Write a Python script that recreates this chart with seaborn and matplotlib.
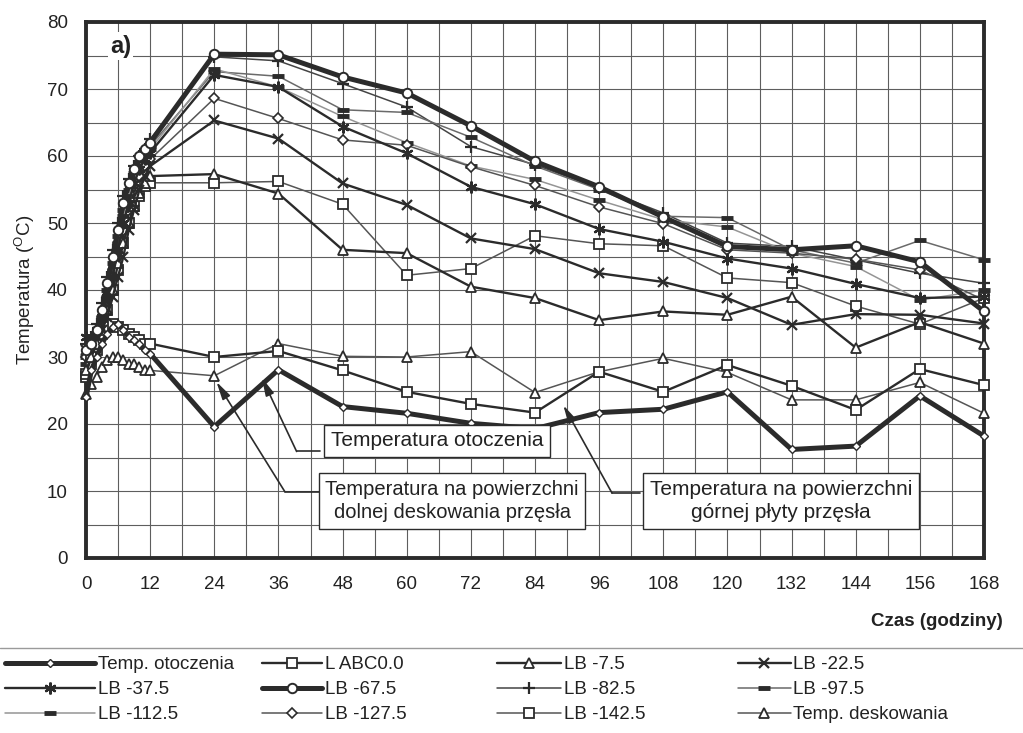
import numpy as np
import pandas as pd
import matplotlib
matplotlib.use("Agg")
import matplotlib.pyplot as plt
import seaborn as sns
from matplotlib.lines import Line2D

# ---------------- data ----------------
hours = [0, 1, 2, 3, 4, 5, 6, 7, 8, 9, 10, 11, 12,
         24, 36, 48, 60, 72, 84, 96, 108, 120, 132, 144, 156, 168]

temp_otoczenia = [24, 28, 30, 32, 33.5, 34.5, 35, 34, 33, 32.5, 32, 31, 30.5,
                  19.6, 28.1, 22.6, 21.6, 20.1, 19.3, 21.7, 22.2, 24.8, 16.2, 16.7, 24.2, 18.2]
l_abc00 = [27.5, 30, 32, 33.5, 34.5, 35, 34.5, 34, 33.5, 33, 32.5, 32, 32,
           30.0, 30.9, 28.0, 24.8, 23.0, 21.7, 27.8, 24.8, 28.8, 25.7, 22.1, 28.2, 25.8]
lb_7_5 = [28, 30, 32, 34, 37, 40, 44, 47, 50, 52.5, 54.5, 56, 57,
          57.3, 54.4, 46.0, 45.5, 40.5, 38.8, 35.5, 36.8, 36.3, 39.0, 31.4, 35.2, 32.0]
lb_22_5 = [31, 32, 33, 34, 36, 39, 42, 45, 49, 52, 55, 57, 58.5,
           65.3, 62.6, 55.9, 52.7, 47.7, 46.1, 42.5, 41.2, 38.8, 34.8, 36.4, 36.3, 35.0]
lb_37_5 = [33, 33, 34, 36, 39, 42, 46, 50, 53, 56, 58, 59.5, 60.5,
           72.1, 70.3, 64.4, 60.4, 55.4, 52.8, 49.1, 47.2, 44.7, 43.2, 40.9, 38.8, 39.0]
lb_67_5 = [31, 32, 34, 37, 41, 45, 49, 53, 56, 58, 60, 61, 62,
           75.2, 75.1, 71.8, 69.4, 64.5, 59.2, 55.4, 50.9, 46.5, 46.0, 46.6, 44.2, 36.8]
lb_82_5 = [32, 33, 35, 38, 42, 46, 50, 54, 56.5, 58.5, 60, 61, 62.5,
           74.8, 74.2, 70.8, 67.3, 61.4, 58.7, 55.2, 51.5, 47.0, 46.5, 44.5, 42.5, 41.0]
lb_97_5 = [30, 31, 33, 36, 40, 44, 48, 52, 55, 57.5, 59, 60.5, 61.5,
           72.6, 71.9, 66.9, 66.5, 62.8, 58.5, 55.0, 51.0, 50.8, 46.0, 44.0, 47.4, 44.5]
lb_112_5 = [29, 30, 32, 35, 39, 43, 47, 51, 54, 56.5, 58.5, 60, 61,
            73.0, 70.3, 65.9, 62.0, 58.5, 56.5, 53.4, 50.5, 49.4, 45.5, 43.5, 38.5, 40.0]
lb_127_5 = [30, 31, 33, 36, 39, 43, 47, 50, 53, 55.5, 57, 58.5, 59.5,
            68.6, 65.6, 62.4, 61.6, 58.4, 55.6, 52.4, 49.9, 46.0, 45.5, 44.6, 43.0, 38.5]
lb_142_5 = [27, 29, 31, 34, 37, 40, 43, 47, 50, 52.5, 54, 55.5, 56,
            56.0, 56.2, 52.8, 42.2, 43.2, 48.1, 46.9, 46.6, 41.8, 41.1, 37.6, 34.9, 38.8]
temp_deskowania = [24.5, 26, 27, 28.5, 29.5, 30, 30, 29.5, 29, 29, 28.5, 28, 28,
                   27.2, 32.0, 30.1, 30.0, 30.8, 24.7, 27.8, 29.8, 27.7, 23.6, 23.6, 26.2, 21.6]

series_labels = ["Temp. otoczenia", "L ABC0.0", "LB -7.5", "LB -22.5",
                 "LB -37.5", "LB -67.5", "LB -82.5", "LB -97.5",
                 "LB -112.5", "LB -127.5", "LB -142.5", "Temp. deskowania"]
series_values = [temp_otoczenia, l_abc00, lb_7_5, lb_22_5,
                 lb_37_5, lb_67_5, lb_82_5, lb_97_5,
                 lb_112_5, lb_127_5, lb_142_5, temp_deskowania]

x_ticks = list(range(0, 169, 12))
y_ticks = list(range(0, 81, 10))

# ---------------- styles ----------------
K = "#2b2b2b"
styles = {
    "Temp. otoczenia":  dict(color=K, lw=3.6, marker="D", ms=4.0, mew=1.0, z=9),
    "L ABC0.0":         dict(color=K, lw=1.7, marker="s", ms=7.5, mew=1.3, z=6),
    "LB -7.5":          dict(color=K, lw=1.7, marker="^", ms=7, mew=1.3, z=6),
    "LB -22.5":         dict(color=K, lw=1.7, marker="x", ms=7.5, mew=1.6, z=6),
    "LB -37.5":         dict(color=K, lw=1.7, marker=(6, 2, 0), ms=8.5, mew=1.6, z=6),
    "LB -67.5":         dict(color=K, lw=3.6, marker="o", ms=6.8, mew=1.4, z=8),
    "LB -82.5":         dict(color="#444444", lw=1.1, marker="+", ms=8.5, mew=1.6, z=5),
    "LB -97.5":         dict(color="#6a6a6a", lw=1.1, marker="_", ms=8, mew=3.5, z=5),
    "LB -112.5":        dict(color="#959595", lw=1.1, marker="_", ms=8, mew=3.5, z=5),
    "LB -127.5":        dict(color="#555555", lw=1.1, marker="D", ms=5.5, mew=1.2, z=5),
    "LB -142.5":        dict(color="#555555", lw=1.1, marker="s", ms=7.5, mew=1.3, z=5),
    "Temp. deskowania": dict(color="#555555", lw=1.1, marker="^", ms=7, mew=1.3, z=5),
}

sns.set_theme(style="white")
plt.rcParams["font.family"] = ["Liberation Sans", "DejaVu Sans"]
plt.rcParams["mathtext.default"] = "regular"

W, H = 1023, 733
fig = plt.figure(figsize=(W / 100, H / 100), dpi=100)
ax = fig.add_axes([86 / W, 1 - 558 / H, (984 - 86) / W, (558 - 22) / H])

for lab, vals in zip(series_labels, series_values):
    st = styles[lab]
    df = pd.DataFrame({"h": hours, "t": vals})
    sns.lineplot(data=df, x="h", y="t", ax=ax, color=st["color"], lw=st["lw"],
                 marker=st["marker"], markersize=st["ms"], markeredgewidth=st["mew"],
                 markerfacecolor="white", markeredgecolor=K, label=lab,
                 zorder=st["z"], clip_on=False)

handles, labels = ax.get_legend_handles_labels()
if ax.get_legend() is not None:
    ax.get_legend().remove()

ax.set_xlim(0, 168)
ax.set_ylim(0, 80)
ax.set_xticks(x_ticks)
ax.set_yticks(y_ticks)
ax.set_xticks(np.arange(0, 169, 6), minor=True)
ax.set_yticks(np.arange(0, 81, 5), minor=True)
ax.grid(which="both", color="#5e5e5e", lw=0.8, zorder=0)
ax.set_axisbelow(True)
ax.tick_params(which="major", direction="out", length=6, width=2.5, color=K,
               labelsize=13.5, labelcolor="#222222", pad=7)
ax.tick_params(which="minor", length=0)
for sp in ax.spines.values():
    sp.set_visible(True)
    sp.set_color(K)
    sp.set_linewidth(2.8)
ax.set_xlabel("")
ax.set_ylabel("Temperatura ($^{O}$C)", fontsize=13.5, color="#222222", labelpad=7)

fig.text(1003 / W, 1 - 621 / H, "Czas (godziny)", ha="right", va="center",
         fontsize=13.5, fontweight="bold", color="#222222")

ax.text(6.5, 76.4, "a)", fontsize=17, fontweight="bold", ha="center", va="center",
        color="#222222", zorder=12,
        bbox=dict(facecolor="white", edgecolor="none", pad=1.5))

# annotation boxes with elbow arrows: (text, centre, box-left, elbow, arrow tip, size)
ann = [
    ("Temperatura otoczenia", (65.7, 17.5), (43.8, 15.9), (39.4, 15.9), (32.9, 26.9), 15),
    ("Temperatura na powierzchni\ndolnej deskowania przęsła", (68.5, 8.5), (44.1, 9.9), (37.2, 9.9), (24.4, 26.3), 14.5),
    ("Temperatura na powierzchni\ngórnej płyty przęsła", (130.0, 8.5), (103.6, 9.7), (98.4, 9.7), (89.3, 22.8), 15),
]
for txt, center, box_left, elbow, tip, fs in ann:
    ax.text(center[0], center[1], txt, ha="center", va="center", fontsize=fs,
            color="#222222", linespacing=1.3, zorder=15,
            bbox=dict(boxstyle="square,pad=0.32", facecolor="white", edgecolor=K, lw=1.0))
    ax.plot([elbow[0], box_left[0]], [elbow[1], box_left[1]], color=K, lw=1.2, zorder=14)
    ax.annotate("", xy=tip, xytext=elbow, zorder=14,
                arrowprops=dict(arrowstyle="-|>,head_length=0.9,head_width=0.22",
                                color=K, lw=1.2, shrinkA=0, shrinkB=0))

# separator line above the legend
fig.add_artist(Line2D([0, 1], [1 - 648 / H, 1 - 648 / H], transform=fig.transFigure,
                      color="#9a9a9a", lw=1.0))

# legend in 4 columns, row-wise order
col_x = [5, 262, 497, 738]
col_hl = [4.8, 3.2, 3.4, 2.8]
hmap = dict(zip(labels, handles))
for c in range(4):
    labs = [series_labels[c + 4 * r] for r in range(3)]
    fig.legend([hmap[l] for l in labs], labs, loc="upper left",
               bbox_to_anchor=(col_x[c] / W, 1 - 656 / H), frameon=False,
               borderaxespad=0, borderpad=0, handlelength=col_hl[c],
               handletextpad=0.15, labelspacing=0.42, fontsize=13.5,
               labelcolor="#222222")

fig.savefig("out.png", dpi=100)
